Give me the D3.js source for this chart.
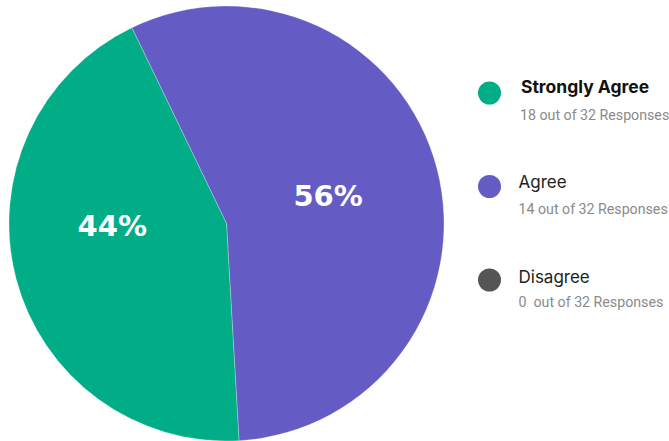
<!DOCTYPE html>
<html>
<head>
<meta charset="utf-8">
<script src="https://cdn.jsdelivr.net/npm/d3@7"></script>
<style>
  html, body { margin: 0; padding: 0; background: #ffffff; }
  svg { display: block; }
</style>
</head>
<body>
<svg id="chart" width="669" height="441"></svg>
<script>
// ---- data ----
const categories = ["Strongly Agree", "Agree", "Disagree"];
const responses = [18, 14, 0];
const totalResponses = 32;
const legendColors = ["#00ad87", "#645cc4", "#555555"];
// pie slices as drawn in the picture (56% slice purple, 44% slice green)
const sliceValues = [18, 14];
const sliceColors = ["#645cc4", "#00ad87"];
const sliceLabels = ["56%", "44%"];

// ---- layout ----
const svg = d3.select("#chart");
const cx = 226.5, cy = 223.5, R = 217.5;
const startDeg = -25.8;

const pie = d3.pie().sort(null).value(d => d)
  .startAngle(startDeg * Math.PI / 180)
  .endAngle((startDeg + 360) * Math.PI / 180);
const arcs = pie(sliceValues);
const arc = d3.arc().innerRadius(0).outerRadius(R);

const g = svg.append("g").attr("transform", `translate(${cx},${cy})`);
g.selectAll("path.slice").data(arcs).join("path")
  .attr("class", "slice")
  .attr("d", arc)
  .attr("fill", (d, i) => sliceColors[i])
  .attr("stroke", "rgba(255,255,255,0.25)")
  .attr("stroke-width", 1);

const labelRadius = [105, 118];
const labelDy = [9, -17];
g.selectAll("text.pct").data(arcs).join("text")
  .attr("class", "pct")
  .attr("x", (d, i) => d3.arc().innerRadius(labelRadius[i]).outerRadius(labelRadius[i]).centroid(d)[0])
  .attr("y", (d, i) => d3.arc().innerRadius(labelRadius[i]).outerRadius(labelRadius[i]).centroid(d)[1] + labelDy[i])
  .attr("text-anchor", "middle")
  .attr("font-family", "DejaVu Sans")
  .attr("font-weight", "bold")
  .attr("font-size", 29)
  .attr("fill", "#ffffff")
  .text((d, i) => sliceLabels[i]);

// ---- legend ----
const lg = svg.append("g");
const rows = lg.selectAll("g.row").data(categories).join("g").attr("class", "row");
rows.append("circle")
  .attr("cx", 489.5)
  .attr("cy", (d, i) => 93 + i * 93.5)
  .attr("r", 11.5)
  .attr("fill", (d, i) => legendColors[i]);
rows.append("text")
  .attr("x", (d, i) => i === 0 ? 521 : 518.5)
  .attr("y", (d, i) => 93 + i * 95)
  .attr("font-family", "Inter")
  .attr("font-weight", (d, i) => i === 0 ? 700 : 400)
  .attr("font-size", (d, i) => i === 0 ? 17.5 : 17)
  .attr("fill", (d, i) => i === 0 ? "#111111" : "#222222")
  .text(d => d);
rows.append("text")
  .attr("x", (d, i) => i === 0 ? 520 : 518.5)
  .attr("y", (d, i) => 120 + i * 93.5)
  .attr("font-family", "Roboto")
  .attr("font-size", 14.2)
  .attr("fill", "#8a8a8a")
  .text((d, i) => `${responses[i]}${i === 2 ? "\u00a0" : ""} out of ${totalResponses} Responses`);
</script>
</body>
</html>
